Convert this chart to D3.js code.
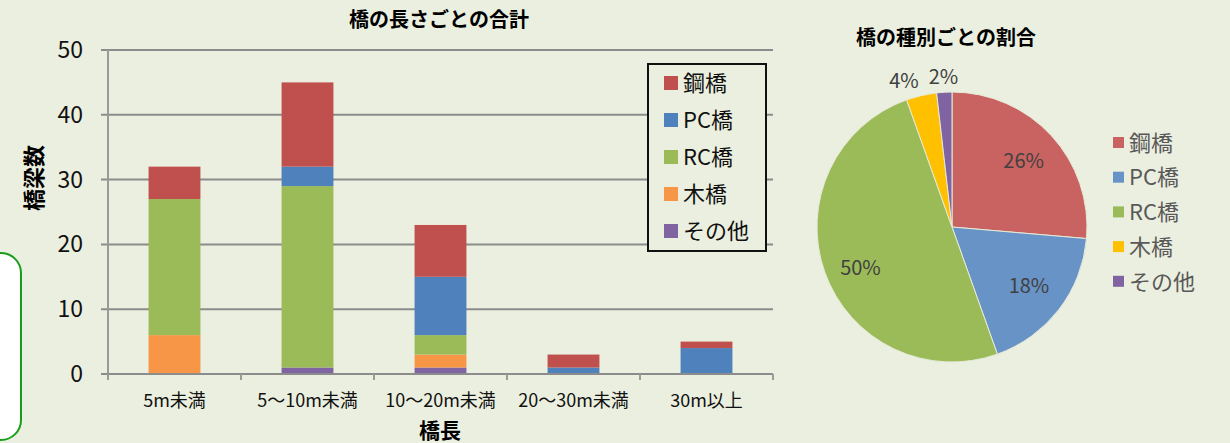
<!DOCTYPE html>
<html>
<head>
<meta charset="utf-8">
<script src="https://cdn.jsdelivr.net/npm/d3@7"></script>
<style>
  body { margin: 0; background: #ebefdf; }
  svg { display: block; font-family: "Noto Sans CJK JP", "Noto Sans", sans-serif; }
</style>
</head>
<body>
<script>
let width = 1230, height = 443

// bar chart data
let categories = ['5m未満', '5〜10m未満', '10〜20m未満', '20〜30m未満', '30m以上']
let seriesNames = ['鋼橋', 'PC橋', 'RC橋', '木橋', 'その他']
let steel = [5, 13, 8, 2, 1]
let pc = [0, 3, 9, 1, 4]
let rc = [21, 28, 3, 0, 0]
let wood = [6, 0, 2, 0, 0]
let other = [0, 1, 1, 0, 0]
let yTicks = [0, 10, 20, 30, 40, 50]

// pie chart data (bridge counts by type)
let pieNames = ['鋼橋', 'PC橋', 'RC橋', '木橋', 'その他']
let pieValues = [29, 20, 55, 4, 2]

let barColors = { '鋼橋': '#c0504d', 'PC橋': '#4f81bd', 'RC橋': '#9bbb59', '木橋': '#f79646', 'その他': '#8064a2' }
let pieColors = ['#c96361', '#6893c6', '#9bbb59', '#ffc000', '#8064a2']

let svg = d3.select('body').append('svg')
  .attr('width', width)
  .attr('height', height)

// green rounded box on the left edge
svg.append('rect')
  .attr('x', -30).attr('y', 253)
  .attr('width', 51).attr('height', 187)
  .attr('rx', 20)
  .attr('fill', '#fff')
  .attr('stroke', '#1a9e1a')
  .attr('stroke-width', 2)

// ---- bar chart ----
let plot = { left: 108, right: 773, top: 50, bottom: 374 }

let x = d3.scaleBand().domain(categories).range([plot.left, plot.right]).paddingInner(0.61).paddingOuter(0.305)
let y = d3.scaleLinear().domain([0, 50]).range([plot.bottom, plot.top])

// grid lines
svg.append('g')
  .selectAll('line')
  .data(yTicks)
  .join('line')
  .attr('x1', plot.left - 7).attr('x2', plot.right)
  .attr('y1', d => y(d)).attr('y2', d => y(d))
  .attr('stroke', '#8c8c8c')
  .attr('stroke-width', 2)

svg.append('g')
  .selectAll('text')
  .data(yTicks)
  .join('text')
  .attr('x', 83).attr('y', d => y(d))
  .attr('dy', '0.35em')
  .attr('text-anchor', 'end')
  .attr('font-size', 23)
  .attr('fill', '#111')
  .text(d => d)

// stacked bars, bottom to top: その他, 木橋, RC橋, PC橋, 鋼橋
let rows = categories.map((c, i) => ({
  cat: c, '鋼橋': steel[i], 'PC橋': pc[i], 'RC橋': rc[i], '木橋': wood[i], 'その他': other[i]
}))
let stack = d3.stack().keys(['その他', '木橋', 'RC橋', 'PC橋', '鋼橋'])(rows)

svg.append('g')
  .selectAll('g')
  .data(stack)
  .join('g')
  .attr('fill', d => barColors[d.key])
  .selectAll('rect')
  .data(d => d.filter(s => s[1] > s[0]))
  .join('rect')
  .attr('x', d => x(d.data.cat))
  .attr('width', x.bandwidth())
  .attr('y', d => y(d[1]))
  .attr('height', d => y(d[0]) - y(d[1]))

// axes lines
svg.append('line')
  .attr('x1', plot.left).attr('x2', plot.left)
  .attr('y1', plot.top).attr('y2', plot.bottom + 6)
  .attr('stroke', '#9a9a9a').attr('stroke-width', 2)

svg.append('line')
  .attr('x1', plot.left - 7).attr('x2', plot.right)
  .attr('y1', plot.bottom).attr('y2', plot.bottom)
  .attr('stroke', '#8c8c8c').attr('stroke-width', 2)

let bandStep = x.step()
svg.append('g')
  .selectAll('line')
  .data(d3.range(categories.length + 1))
  .join('line')
  .attr('x1', i => plot.left + i * bandStep).attr('x2', i => plot.left + i * bandStep)
  .attr('y1', plot.bottom).attr('y2', plot.bottom + 6)
  .attr('stroke', '#9a9a9a').attr('stroke-width', 2)

svg.append('g')
  .selectAll('text')
  .data(categories)
  .join('text')
  .attr('x', d => x(d) + x.bandwidth() / 2)
  .attr('y', 401)
  .attr('dy', '0.35em')
  .attr('text-anchor', 'middle')
  .attr('font-size', 18)
  .attr('fill', '#111')
  .text(d => d)

// titles
svg.append('text')
  .attr('x', 439).attr('y', 20)
  .attr('dy', '0.35em')
  .attr('text-anchor', 'middle')
  .attr('font-size', 20).attr('font-weight', 'bold')
  .text('橋の長さごとの合計')

svg.append('text')
  .attr('x', 440).attr('y', 431)
  .attr('dy', '0.35em')
  .attr('text-anchor', 'middle')
  .attr('font-size', 21).attr('font-weight', 'bold')
  .text('橋長')

svg.append('text')
  .attr('transform', 'translate(34,178) rotate(-90)')
  .attr('dy', '0.35em')
  .attr('text-anchor', 'middle')
  .attr('font-size', 22).attr('font-weight', 'bold')
  .text('橋梁数')

// legend box
svg.append('rect')
  .attr('x', 648).attr('y', 64)
  .attr('width', 118).attr('height', 187)
  .attr('fill', '#ebefdf')
  .attr('stroke', '#111').attr('stroke-width', 2)

let legend = svg.append('g')
  .selectAll('g')
  .data(seriesNames)
  .join('g')
  .attr('transform', (d, i) => `translate(664,${83 + i * 37})`)

legend.append('rect')
  .attr('x', 0).attr('y', -7)
  .attr('width', 14).attr('height', 14)
  .attr('fill', d => barColors[d])

legend.append('text')
  .attr('x', 19).attr('dy', '0.35em')
  .attr('font-size', 22)
  .attr('fill', '#111')
  .text(d => d)

// ---- pie chart ----
let cx = 952, cy = 227, r = 135
let total = d3.sum(pieValues)
let pieData = d3.pie().sort(null)(pieValues)
let arc = d3.arc().innerRadius(0).outerRadius(r)

let pie = svg.append('g').attr('transform', `translate(${cx},${cy})`)

pie.selectAll('path')
  .data(pieData)
  .join('path')
  .attr('d', arc)
  .attr('fill', (d, i) => pieColors[i])
  .attr('stroke', '#e6ead8')
  .attr('stroke-width', 1)

// label positions: inside for big slices, outside for small ones
let inner = d3.arc().innerRadius(r * 0.72).outerRadius(r * 0.72)
let outer = d3.arc().innerRadius(r + 15).outerRadius(r + 15)

pie.selectAll('text')
  .data(pieData)
  .join('text')
  .attr('transform', (d, i) => {
    let small = (d.endAngle - d.startAngle) < 0.4
    let p = small ? outer.centroid(d) : inner.centroid(d)
    if (small && i === 3) p[0] -= 14
    if (i === 2) p[1] += 8
    return `translate(${p[0]},${p[1]})`
  })
  .attr('dy', '0.35em')
  .attr('text-anchor', 'middle')
  .attr('font-size', 20)
  .attr('fill', '#404040')
  .text(d => Math.round(d.value / total * 100) + '%')

svg.append('text')
  .attr('x', 946).attr('y', 38)
  .attr('dy', '0.35em')
  .attr('text-anchor', 'middle')
  .attr('font-size', 20).attr('font-weight', 'bold')
  .text('橋の種別ごとの割合')

let pieLegend = svg.append('g')
  .selectAll('g')
  .data(pieNames)
  .join('g')
  .attr('transform', (d, i) => `translate(1113,${143 + i * 34.7})`)

pieLegend.append('rect')
  .attr('x', 0).attr('y', -6)
  .attr('width', 11).attr('height', 11)
  .attr('fill', (d, i) => pieColors[i])

pieLegend.append('text')
  .attr('x', 16).attr('dy', '0.35em')
  .attr('font-size', 22)
  .attr('fill', '#595959')
  .text(d => d)
</script>
</body>
</html>
